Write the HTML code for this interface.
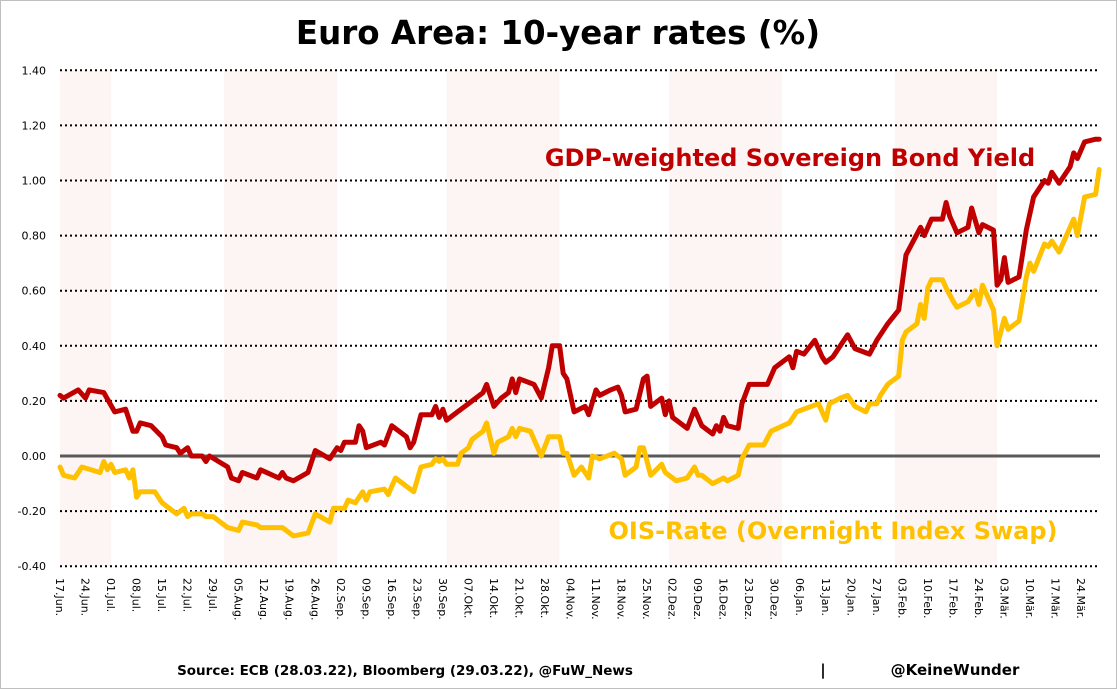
<!DOCTYPE html>
<html><head><meta charset="utf-8"><style>
body{margin:0;background:#fff;}
svg{display:block;font-family:"DejaVu Sans","Liberation Sans",sans-serif;}
</style></head><body>
<svg id="c" width="1117" height="689">
<rect x="0.5" y="0.5" width="1116" height="688" fill="#fff" stroke="#bfbfbf"/>
<text x="558" y="44" text-anchor="middle" font-size="32.5" font-weight="bold" fill="#000">Euro Area: 10-year rates (%)</text>
<g id="bands"></g><g id="grid"></g><g id="series"></g><g id="axes"></g>
<text x="790" y="166" text-anchor="middle" font-size="24" font-weight="bold" fill="#c00000">GDP-weighted Sovereign Bond Yield</text>
<text x="833" y="539" text-anchor="middle" font-size="24" font-weight="bold" fill="#ffc000">OIS-Rate (Overnight Index Swap)</text>
<text x="405" y="675" text-anchor="middle" font-size="13.5" font-weight="bold" fill="#000">Source: ECB (28.03.22), Bloomberg (29.03.22), @FuW_News</text>
<text x="823" y="675" text-anchor="middle" font-size="15" font-weight="bold">|</text>
<text x="955" y="675" text-anchor="middle" font-size="15" font-weight="bold">@KeineWunder</text>
</svg>
<script>
const yTicks=[-0.4,-0.2,0,0.2,0.4,0.6,0.8,1.0,1.2,1.4];
const xLabels=["17.Jun.","24.Jun.","01.Jul.","08.Jul.","15.Jul.","22.Jul.","29.Jul.","05.Aug.","12.Aug.","19.Aug.","26.Aug.","02.Sep.","09.Sep.","16.Sep.","23.Sep.","30.Sep.","07.Okt.","14.Okt.","21.Okt.","28.Okt.","04.Nov.","11.Nov.","18.Nov.","25.Nov.","02.Dez.","09.Dez.","16.Dez.","23.Dez.","30.Dez.","06.Jan.","13.Jan.","20.Jan.","27.Jan.","03.Feb.","10.Feb.","17.Feb.","24.Feb.","03.Mär.","10.Mär.","17.Mär.","24.Mär."];
const bandStarts=[0,45,106,167,229];
const bandEnds=[14,76,137,198,257];
const bondDays=[0,1,5,7,8,12,15,18,20,21,22,25,28,29,32,33,35,36,39,40,41,46,47,49,50,54,55,60,61,62,64,68,70,74,76,77,78,81,82,83,84,88,89,91,93,95,96,97,99,102,103,104,105,106,109,112,116,117,119,121,123,124,125,126,130,132,134,135,137,138,139,141,144,145,147,148,151,153,154,155,158,160,161,162,165,166,167,168,172,174,176,179,180,181,182,183,186,187,189,194,196,200,201,202,204,207,209,210,212,214,216,218,222,224,227,230,232,234,236,237,239,242,243,244,246,249,250,252,253,256,257,258,259,260,263,265,267,270,271,272,274,277,278,279,281,284,285];
const bondVals=[0.22,0.21,0.24,0.21,0.24,0.23,0.16,0.17,0.09,0.09,0.12,0.11,0.07,0.04,0.03,0.01,0.03,0.00,0.00,-0.02,0.00,-0.04,-0.08,-0.09,-0.06,-0.08,-0.05,-0.08,-0.06,-0.08,-0.09,-0.06,0.02,-0.01,0.03,0.02,0.05,0.05,0.11,0.09,0.03,0.05,0.04,0.11,0.09,0.07,0.03,0.05,0.15,0.15,0.18,0.14,0.17,0.13,0.16,0.19,0.23,0.26,0.18,0.21,0.23,0.28,0.23,0.28,0.26,0.21,0.32,0.40,0.40,0.30,0.28,0.16,0.18,0.15,0.24,0.22,0.24,0.25,0.22,0.16,0.17,0.28,0.29,0.18,0.21,0.15,0.20,0.14,0.10,0.17,0.11,0.08,0.11,0.09,0.14,0.11,0.10,0.19,0.26,0.26,0.32,0.36,0.32,0.38,0.37,0.42,0.36,0.34,0.36,0.40,0.44,0.39,0.37,0.42,0.48,0.53,0.73,0.78,0.83,0.80,0.86,0.86,0.92,0.87,0.81,0.83,0.90,0.81,0.84,0.82,0.62,0.64,0.72,0.63,0.65,0.82,0.94,1.00,0.99,1.03,0.99,1.05,1.10,1.08,1.14,1.15,1.15];
const oisDays=[0,1,4,6,11,12,13,14,15,18,19,20,21,22,26,28,32,34,35,36,39,40,42,46,49,50,54,55,57,61,64,68,70,74,75,78,79,81,83,84,85,89,90,91,92,95,97,99,102,103,104,105,106,109,110,112,113,116,117,119,120,123,124,125,126,129,132,134,137,138,139,141,143,145,146,148,152,154,155,158,159,160,162,165,166,169,172,174,175,176,179,182,183,186,187,189,193,195,200,202,208,210,211,214,216,218,221,222,224,225,227,230,231,232,235,236,237,238,239,242,243,245,246,249,251,252,253,256,257,259,260,263,265,266,267,270,271,272,274,278,279,281,284,285];
const oisVals=[-0.04,-0.07,-0.08,-0.04,-0.06,-0.02,-0.05,-0.03,-0.06,-0.05,-0.08,-0.05,-0.15,-0.13,-0.13,-0.17,-0.21,-0.19,-0.22,-0.21,-0.21,-0.22,-0.22,-0.26,-0.27,-0.24,-0.25,-0.26,-0.26,-0.26,-0.29,-0.28,-0.21,-0.24,-0.19,-0.19,-0.16,-0.17,-0.13,-0.16,-0.13,-0.12,-0.14,-0.11,-0.08,-0.11,-0.13,-0.04,-0.03,-0.01,-0.02,-0.01,-0.03,-0.03,0.01,0.03,0.06,0.09,0.12,0.01,0.05,0.07,0.10,0.07,0.10,0.09,0.00,0.07,0.07,0.01,0.01,-0.07,-0.04,-0.08,0.00,-0.01,0.01,-0.01,-0.07,-0.04,0.03,0.03,-0.07,-0.03,-0.06,-0.09,-0.08,-0.04,-0.07,-0.07,-0.10,-0.08,-0.09,-0.07,-0.01,0.04,0.04,0.09,0.12,0.16,0.19,0.13,0.19,0.21,0.22,0.18,0.16,0.19,0.19,0.22,0.26,0.29,0.42,0.45,0.48,0.55,0.50,0.61,0.64,0.64,0.61,0.56,0.54,0.56,0.60,0.55,0.62,0.53,0.40,0.50,0.46,0.49,0.65,0.70,0.67,0.77,0.76,0.78,0.74,0.86,0.80,0.94,0.95,1.04];

const NS="http://www.w3.org/2000/svg";
const X0=60,X1=1100,PXD=25.525/7;
const xs=d=>X0+d*PXD;
const ys=v=>456-v*275.5;
function mk(tag,attrs,parent){const e=document.createElementNS(NS,tag);for(const k in attrs)e.setAttribute(k,attrs[k]);parent.appendChild(e);return e;}
const bands=document.getElementById('bands'),grid=document.getElementById('grid'),series=document.getElementById('series'),axes=document.getElementById('axes');
bandStarts.forEach((s,i)=>{
  const r=mk('rect',{x:xs(s),y:ys(1.4),width:xs(bandEnds[i])-xs(s),height:ys(-0.4)-ys(1.4),fill:'#fcf5f3'},bands);
  
  
});
yTicks.forEach(v=>{
  if(Math.abs(v)>1e-9){
    const l=mk('line',{x1:X0,x2:X1,y1:ys(v),y2:ys(v),stroke:'#000','stroke-width':2,'stroke-dasharray':'2 3'},grid);
    
    
  }
  const t=mk('text',{x:46,y:ys(v)+4,'text-anchor':'end','font-size':11,fill:'#000'},axes);
  t.textContent=v.toFixed(2);
  
  
});
const z=mk('line',{x1:X0,x2:X1,y1:ys(0),y2:ys(0),stroke:'#595959','stroke-width':3},grid);


xLabels.forEach((s,i)=>{
  const x=xs(i*7);
  const t=mk('text',{x:0,y:0,transform:`translate(${x-4},578) rotate(90)`,'font-size':11,fill:'#000'},axes);
  t.textContent=s;
  
  
});
function line(days,vals,color,name){
  const d=days.map((dd,i)=>(i?'L':'M')+xs(dd).toFixed(1)+','+ys(vals[i]).toFixed(1)).join('');
  const p=mk('path',{d:d,fill:'none',stroke:color,'stroke-width':5,'stroke-linejoin':'round','stroke-linecap':'round'},series);
  
  
}
line(oisDays,oisVals,'#ffc000','ois-rate-line');
line(bondDays,bondVals,'#c00000','sovereign-yield-line');
</script>
</body></html>
